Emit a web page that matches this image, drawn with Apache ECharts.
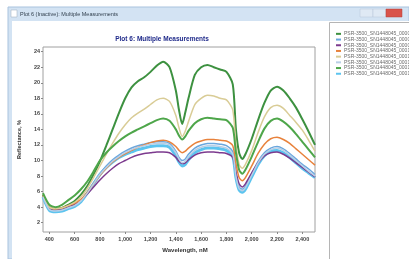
<!DOCTYPE html>
<html>
<head>
<meta charset="utf-8">
<script src="https://cdn.jsdelivr.net/npm/echarts@6/dist/echarts.min.js"></script>
<style>
  html, body { margin: 0; padding: 0; background: #fff; }
  #chart { width: 409px; height: 259px; }
</style>
</head>
<body>
<div id="chart"></div>
<script>
// wavelength samples, nm
const wavelengths = [350,400,450,500,550,600,650,700,750,800,850,900,950,1000,1050,1100,1150,1200,1250,1300,1350,1400,1425,1450,1475,1500,1550,1600,1650,1700,1750,1800,1850,1875,1900,1925,1950,2000,2050,2100,2150,2200,2250,2300,2350,2400,2450,2500];

// reflectance, %
const m00007 = [5.6,4.0,3.8,3.9,4.3,4.8,5.6,6.7,8.2,9.9, 11.9,14.0,16.1,18.0,19.4,20.2,20.7,21.4,22.2,22.7, 22.0,19.0,16.5,14.7,16.2,18.0,21.0,22.0,22.3,22.0, 21.7,21.4,19.8,14.0,11.0,10.2,10.8,12.8,15.2,17.4, 19.0,19.5,19.0,18.0,16.8,15.3,13.7,12.0];
const m00008 = [5.4,3.8,3.6,3.7,4.0,4.3,4.9,5.9,7.1,8.3, 9.3,10.1,10.7,11.2,11.6,11.9,12.1,12.3,12.4,12.4, 12.2,11.2,10.4,10.0,10.2,10.8,11.6,12.0,12.2,12.2, 12.1,11.9,11.1,8.3,6.6,6.3,6.7,8.3,9.9,11.0, 11.6,11.8,11.5,10.9,10.2,9.5,8.9,8.2];
const m00009 = [5.4,3.9,3.7,3.8,4.1,4.4,4.9,5.7,6.6,7.5, 8.3,9.0,9.6,10.0,10.4,10.7,10.9,11.0,11.1,11.1, 11.0,10.4,9.9,9.6,9.7,10.1,10.7,11.0,11.1,11.1, 11.0,10.9,10.4,8.5,7.0,6.6,7.0,8.4,9.7,10.6, 11.0,11.1,10.8,10.3,9.7,9.1,8.5,7.9];
const m00010 = [5.5,4.0,3.8,3.9,4.2,4.5,5.0,5.9,7.0,8.1, 9.0,9.8,10.4,10.9,11.3,11.7,12.0,12.3,12.5,12.6, 12.4,11.8,11.3,11.0,11.2,11.6,12.2,12.5,12.7,12.7, 12.6,12.5,11.9,9.6,7.8,7.4,7.8,9.3,10.9,12.1, 12.8,13.0,12.7,12.2,11.5,10.8,10.1,9.4];
const m00011 = [5.4,4.0,3.8,3.9,4.2,4.6,5.3,6.4,7.8,9.3, 10.8,12.2,13.5,14.6,15.5,16.1,16.6,17.2,17.8,18.0, 17.6,15.8,14.2,13.1,13.8,15.0,17.2,18.0,18.4,18.3, 18.0,17.8,16.5,12.0,9.5,9.0,9.5,11.3,13.6,15.6, 16.8,17.1,16.7,15.8,14.9,13.9,12.6,11.2];
const m00012 = [5.3,3.7,3.5,3.6,3.9,4.2,4.8,5.8,7.0,8.2, 9.1,9.9,10.5,11.0,11.4,11.7,11.9,12.1,12.2,12.2, 12.0,11.0,10.2,9.7,9.9,10.5,11.3,11.7,11.9,11.9, 11.8,11.6,10.8,8.0,6.4,6.1,6.5,8.1,9.7,10.8, 11.4,11.6,11.3,10.7,10.0,9.3,8.6,8.0];
const m00013 = [5.8,4.3,4.0,4.3,4.9,5.5,6.3,7.3,8.6,10.0, 11.0,11.8,12.5,13.1,13.6,14.0,14.4,14.8,15.2,15.4, 15.1,14.0,13.2,12.7,13.1,13.8,14.8,15.3,15.5,15.4, 15.3,15.2,14.2,11.0,8.8,8.3,8.8,10.5,12.4,14.1, 15.1,15.4,15.0,14.3,13.4,12.4,11.4,10.4];
const m00014 = [5.3,3.6,3.4,3.5,3.8,4.1,4.7,5.8,7.0,8.2, 9.1,9.8,10.4,10.8,11.1,11.4,11.6,11.8,11.9,11.9, 11.7,10.6,9.8,9.3,9.5,10.1,11.0,11.4,11.6,11.6, 11.5,11.3,10.5,7.8,6.2,5.9,6.3,7.9,9.5,10.6, 11.2,11.3,11.0,10.4,9.7,9.0,8.4,7.8];

const names = ['PSR-3500_SN1448045_00007.sed','PSR-3500_SN1448045_00008.sed','PSR-3500_SN1448045_00009.sed','PSR-3500_SN1448045_00010.sed','PSR-3500_SN1448045_00011.sed','PSR-3500_SN1448045_00012.sed','PSR-3500_SN1448045_00013.sed','PSR-3500_SN1448045_00014.sed'];
const values = [m00007, m00008, m00009, m00010, m00011, m00012, m00013, m00014];
const colors = ['#3d9140','#6aa7de','#7c3a8e','#e8823c','#d9cc96','#b9cfe6','#4ea64a','#5cc4ef'];
const widths = [2, 1.5, 1.5, 1.5, 1.5, 1.5, 2, 3];

const xTicks = [400,600,800,1000,1200,1400,1600,1800,2000,2200,2400];
const yTicks = [2,4,6,8,10,12,14,16,18,20,22,24];

const withComma = v => String(v).replace(/\B(?=(\d{3})+(?!\d))/g, ',');

const chart = echarts.init(document.getElementById('chart'), null, {renderer: 'canvas'});
chart.setOption({
  animation: false,
  backgroundColor: '#fff',
  textStyle: {fontFamily: 'Liberation Sans'},
  color: colors,
  graphic: [
    // window frame and title bar
    {type: 'rect', z: -10, shape: {x: 8, y: 7, width: 401, height: 252},
     style: {fill: '#d3e3f3', stroke: '#a9c3de', lineWidth: 1}},
    {type: 'rect', z: -9, shape: {x: 12, y: 21, width: 397, height: 238}, style: {fill: '#fff'}},
    {type: 'rect', z: -9, shape: {x: 11, y: 10, width: 6, height: 7}, style: {fill: '#fff', stroke: '#9aa9b8', lineWidth: 0.5}},
    {type: 'text', z: -8, style: {x: 20, y: 14, text: 'Plot 6 (Inactive): Multiple Measurements',
      fontSize: 5.5, fill: '#33414f', verticalAlign: 'middle', fontFamily: 'Liberation Sans'}},
    {type: 'rect', z: -8, shape: {x: 360, y: 9, width: 13, height: 8}, style: {fill: '#dfe9f4', stroke: '#b4c6da', lineWidth: 0.5}},
    {type: 'rect', z: -8, shape: {x: 373, y: 9, width: 13, height: 8}, style: {fill: '#dfe9f4', stroke: '#b4c6da', lineWidth: 0.5}},
    {type: 'rect', z: -8, shape: {x: 386, y: 9, width: 16, height: 8}, style: {fill: '#d9534a', stroke: '#b0403a', lineWidth: 0.5}},
    // legend panel
    {type: 'rect', z: -8, shape: {x: 329.5, y: 22.5, width: 80, height: 237},
     style: {fill: '#fff', stroke: '#b5b5b5', lineWidth: 1}},
    // plot title
    {type: 'text', style: {x: 162, y: 39, text: 'Plot 6: Multiple Measurements', fontSize: 6.5,
      fontWeight: 'bold', fill: '#1f2a8a', align: 'center', verticalAlign: 'middle', fontFamily: 'Liberation Sans'}}
  ],
  legend: {
    orient: 'vertical',
    left: 331,
    top: 26,
    itemWidth: 5,
    itemHeight: 2,
    itemGap: 0,
    icon: 'rect',
    textStyle: {fontSize: 5, lineHeight: 5.7, color: '#6a6a6a', padding: [0, 0, 0, -2]},
    data: names
  },
  grid: {left: 43, top: 47, width: 272, height: 185, show: true, borderColor: '#a0a0a0', borderWidth: 1, backgroundColor: '#fff'},
  xAxis: {
    type: 'value',
    min: 350,
    max: 2500,
    name: 'Wavelength, nM',
    nameLocation: 'middle',
    nameGap: 14,
    nameTextStyle: {fontSize: 6, fontWeight: 'bold', color: '#333', padding: [0, 0, 0, 12]},
    axisLine: {show: false},
    splitLine: {show: false},
    axisTick: {show: true, length: 2, lineStyle: {color: '#888'}, customValues: xTicks},
    axisLabel: {fontSize: 5.5, fontWeight: 'bold', color: '#444', margin: 4, customValues: xTicks, formatter: withComma}
  },
  yAxis: {
    type: 'value',
    min: 0.8,
    max: 24.6,
    name: 'Reflectance, %',
    nameLocation: 'middle',
    nameGap: 13,
    nameTextStyle: {fontSize: 5.5, fontWeight: 'bold', color: '#333'},
    axisLine: {show: false},
    splitLine: {show: false},
    axisTick: {show: true, length: 2, lineStyle: {color: '#888'}, customValues: yTicks},
    axisLabel: {fontSize: 5.5, fontWeight: 'bold', color: '#444', margin: 3, customValues: yTicks}
  },
  series: values.map((vals, i) => ({
    name: names[i],
    type: 'line',
    showSymbol: false,
    symbol: 'none',
    smooth: 0.25,
    z: i === 7 ? 1 : 2,
    lineStyle: {width: widths[i], color: colors[i]},
    data: wavelengths.map((w, j) => [w, vals[j]])
  }))
});
</script>
</body>
</html>
